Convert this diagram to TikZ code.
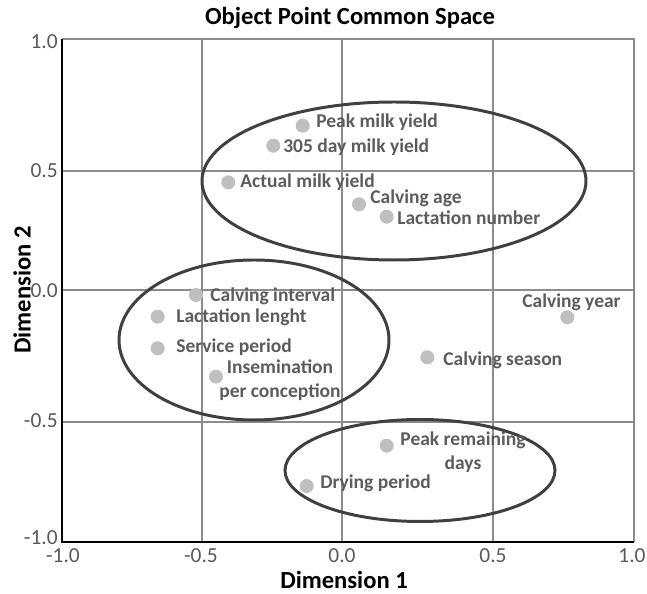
\documentclass[tikz,border=0pt]{standalone}
\usepackage{fontspec}
\setmainfont{Carlito}
\definecolor{dotgray}{HTML}{BFBFBF}
\definecolor{labgray}{HTML}{5C5C5C}
\definecolor{tickgray}{HTML}{595959}
\definecolor{gridgray}{HTML}{8C8C8C}
\definecolor{ringgray}{HTML}{404040}
\begin{document}
\begin{tikzpicture}[x=0.02cm,y=-0.02cm,
  dot/.style={circle,fill=dotgray,inner sep=0pt,minimum size=14*0.02cm},
  lbl/.style={text=labgray,inner sep=0pt,font=\fontsize{11.1}{13.7}\selectfont\bfseries},
  tick/.style={text=tickgray,inner sep=0pt,font=\fontsize{12.2}{14}\selectfont},
  axtitle/.style={inner sep=0pt,font=\fontsize{14}{17}\selectfont\bfseries},
  gridline/.style={draw=gridgray,line width=0.85pt},
  axisline/.style={draw=black,line width=1.2pt},
  ring/.style={draw=ringgray,line width=1.7pt}]
\useasboundingbox (0,0) rectangle (647,594);

% grid and frame
\draw[gridline] (202,39) -- (202,542);
\draw[gridline] (342,39) -- (342,542);
\draw[gridline] (493,39) -- (493,542);
\draw[gridline] (62,171) -- (634,171);
\draw[gridline] (62,290) -- (634,290);
\draw[gridline] (62,422) -- (634,422);
\draw[gridline] (62,39) -- (634,39) -- (634,542);
\draw[axisline] (62,39) -- (62,542) -- (634,542);

% tick labels
\node[tick,anchor=east] (y1) at (58,42) {1.0};
\node[tick,anchor=east] (y2) at (58,171) {0.5};
\node[tick,anchor=east] (y3) at (58,291) {0.0};
\node[tick,anchor=east] (y4) at (58,421) {-0.5};
\node[tick,anchor=east] (y5) at (58,538) {-1.0};
\node[tick] (x1) at (63,556) {-1.0};
\node[tick] (x2) at (201,556) {-0.5};
\node[tick] (x3) at (342,556) {0.0};
\node[tick] (x4) at (493,556) {0.5};
\node[tick] (x5) at (632,556) {1.0};

% titles
\node[axtitle] (title) at (350,18) {Object Point Common Space};
\node[axtitle] (xlab) at (344,580) {Dimension 1};
\node[axtitle,rotate=90] (ylab) at (22,290) {Dimension 2};

% group outlines
\draw[ring] (394,181) ellipse [x radius=192, y radius=79];
\draw[ring] (254,340) ellipse [x radius=135, y radius=80];
\draw[ring] (420,470.5) ellipse [x radius=135, y radius=51];

% object points
\node[dot] (p1) at (302.7,125.7) {};
\node[dot] (p2) at (273.3,145.7) {};
\node[dot] (p3) at (228.3,182.3) {};
\node[dot] (p4) at (359,204.3) {};
\node[dot] (p5) at (386.7,216.7) {};
\node[dot] (p6) at (196,295) {};
\node[dot] (p7) at (157.7,316.7) {};
\node[dot] (p8) at (157.7,348.3) {};
\node[dot] (p9) at (216,376.7) {};
\node[dot] (p10) at (567.3,317.3) {};
\node[dot] (p11) at (427.3,357.3) {};
\node[dot] (p12) at (386.7,445.7) {};
\node[dot] (p13) at (306.7,486) {};

% point labels (two-line labels are anchored at the baseline of their last line)
\node[lbl,anchor=base west] (l1) at (316,128) {Peak milk yield};
\node[lbl,anchor=base west] (l2) at (283,153) {305 day milk yield};
\node[lbl,anchor=base west] (l3) at (240,188) {Actual milk yield};
\node[lbl,anchor=base west] (l4) at (370,204) {Calving age};
\node[lbl,anchor=base west] (l5) at (397,225) {Lactation number};
\node[lbl,anchor=base west] (l6) at (210,302) {Calving interval};
\node[lbl,anchor=base west] (l7) at (176,323) {Lactation lenght};
\node[lbl,anchor=base west] (l8) at (176,353) {Service period};
\node[lbl,anchor=base,align=center] (l9) at (280,398) {Insemination\\per conception};
\node[lbl,anchor=base west] (l10) at (522,308) {Calving year};
\node[lbl,anchor=base west] (l11) at (443,366) {Calving season};
\node[lbl,anchor=base,align=center] (l12) at (463,470) {Peak remaining\\days};
\node[lbl,anchor=base west] (l13) at (320,489) {Drying period};
\end{tikzpicture}
\end{document}
